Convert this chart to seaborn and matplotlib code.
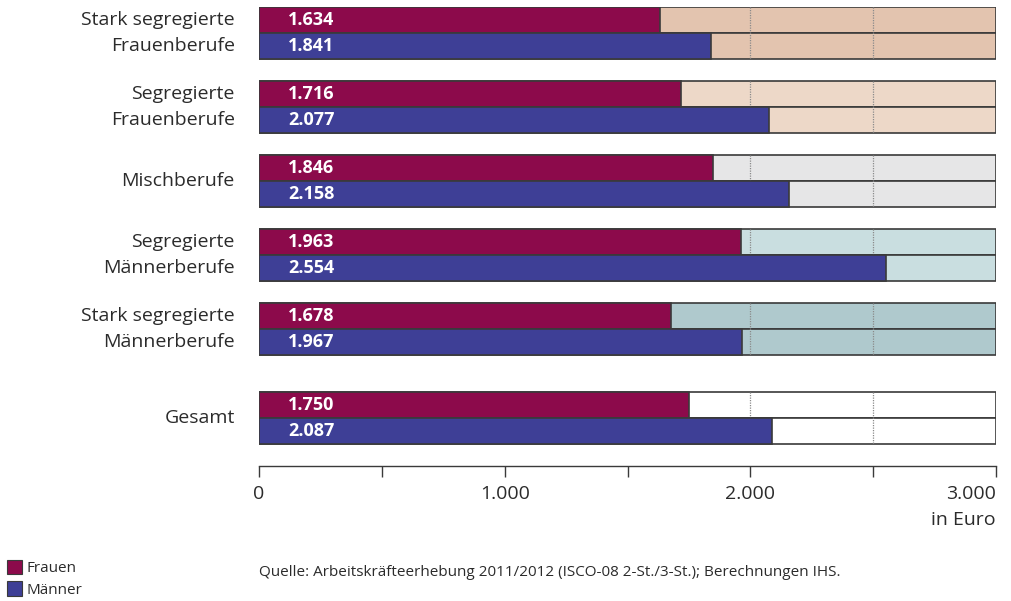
import numpy as np
import pandas as pd
import matplotlib
matplotlib.use('Agg')
import matplotlib.pyplot as plt
import seaborn as sns
from matplotlib.patches import Patch
from matplotlib.ticker import FixedLocator, FuncFormatter

# Data (monthly income in Euro)
groups = ['Stark segregierte\nFrauenberufe', 'Segregierte\nFrauenberufe', 'Mischberufe',
          'Segregierte\nMännerberufe', 'Stark segregierte\nMännerberufe', 'Gesamt']
frauen = [1634, 1716, 1846, 1963, 1678, 1750]
maenner = [1841, 2077, 2158, 2554, 1967, 2087]
sexes = ['Frauen', 'Männer']
group_pos = [0, 1, 2, 3, 4, 5.2]          # Gesamt set a bit apart
bg_colors = ['#e3c4af', '#edd8c8', '#e6e6e7', '#c9dee0', '#afc9cd', '#ffffff']
bar_colors = {'Frauen': '#8c0a4b', 'Männer': '#3e3f96'}
xmax = 3000

df = pd.DataFrame({
    'Gruppe': np.repeat(groups, 2),
    'pos': np.repeat(group_pos, 2),
    'Geschlecht': sexes * len(groups),
    'Euro': [v for pair in zip(frauen, maenner) for v in pair],
})

sns.set_style('white')
plt.rcParams['font.family'] = ['Open Sans', 'DejaVu Sans']
text_col = '#2b2b2b'
edge_col = '#3a3a3a'

fig = plt.figure(figsize=(10.11, 6.01), dpi=100)
ax = fig.add_axes([259 / 1011, 1 - 466 / 601, 737 / 1011, 459 / 601])

width = 0.702
h = width / 2

# background boxes (two rows per group)
for p, c in zip(group_pos, bg_colors):
    ax.barh([p - h / 2, p + h / 2], xmax, height=h, color=c,
            edgecolor=edge_col, linewidth=1.2, zorder=0.2)
    ax.vlines([2000, 2500], p - h, p + h, colors='#8a8a8a',
              linestyles=(0, (1, 1)), linewidth=0.9, zorder=0.5)

sns.barplot(data=df, x='Euro', y='pos', hue='Geschlecht', orient='h',
            native_scale=True, palette=bar_colors, width=width, dodge=True,
            edgecolor=edge_col, linewidth=1.2, saturation=1, legend=False, ax=ax)

# value labels
for _, r in df.iterrows():
    off = -h / 2 if r['Geschlecht'] == 'Frauen' else h / 2
    ax.text(118, r['pos'] + off, f"{r['Euro']:,}".replace(',', '.'),
            color='white', fontweight='bold', fontsize=13, ha='left', va='center', zorder=3)

# group labels
for p, g in zip(group_pos, groups):
    ax.text(-0.033, p, g, transform=ax.get_yaxis_transform(), ha='right', va='center',
            fontsize=14, color=text_col, linespacing=1.62)

ax.set_xlim(0, xmax)
ax.set_ylim(5.2 + h + 0.3, -h)
ax.set_yticks([])
ax.set_ylabel('')
ax.set_xlabel('')
for s in ['top', 'right', 'left']:
    ax.spines[s].set_visible(False)
ax.spines['bottom'].set_color(edge_col)
ax.spines['bottom'].set_linewidth(1.0)

ax.xaxis.set_major_locator(FixedLocator([0, 1000, 2000, 3000]))
ax.xaxis.set_minor_locator(FixedLocator([500, 1500, 2500]))
ax.xaxis.set_major_formatter(FuncFormatter(lambda v, _: f"{int(v):,}".replace(',', '.')))
ax.tick_params(axis='x', which='both', direction='out', length=8, width=1.0,
               color=edge_col, bottom=True)
ax.tick_params(axis='x', which='major', labelsize=14, labelcolor=text_col, pad=6)
fig.canvas.draw()
lbl = ax.get_xticklabels()[-1]
lbl.set_ha('right')
ax.text(1.0, -0.118, 'in Euro', transform=ax.transAxes, ha='right', va='center',
        fontsize=14, color=text_col)

# legend and source
handles = [Patch(facecolor=bar_colors[s], edgecolor=edge_col, linewidth=0.8, label=s) for s in sexes]
fig.legend(handles=handles, loc='lower left', bbox_to_anchor=(-0.003, -0.011), frameon=False,
           fontsize=11, handlelength=1.0, handleheight=1.05, handletextpad=0.3,
           labelspacing=0.35, borderaxespad=0.25, labelcolor=text_col)
fig.text(259 / 1011, 1 - 572 / 601,
         'Quelle: Arbeitskräfteerhebung 2011/2012 (ISCO-08 2-St./3-St.); Berechnungen IHS.',
         fontsize=11, color=text_col, ha='left', va='center')

fig.savefig('out.png', dpi=100)
